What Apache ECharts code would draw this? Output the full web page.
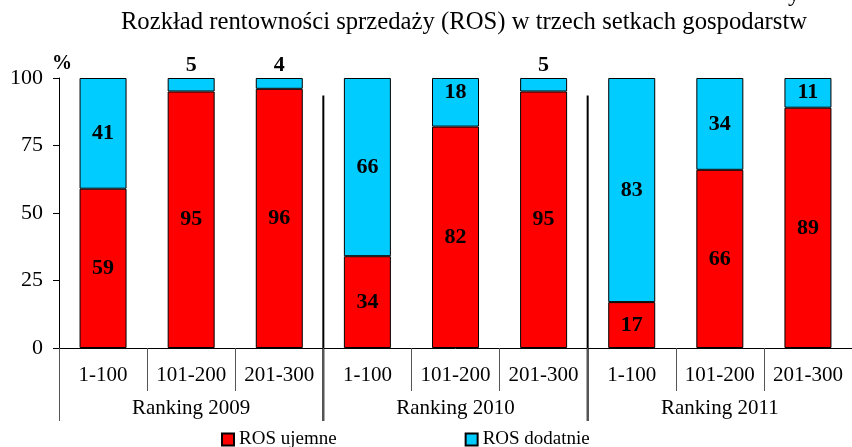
<!DOCTYPE html>
<html><head><meta charset="utf-8">
<script src="https://cdn.jsdelivr.net/npm/echarts@6/dist/echarts.min.js"></script>
<style>html,body{margin:0;padding:0;background:#fff}#c{width:852px;height:447px}</style>
</head><body><div id="c"></div>
<script>
var titleText = 'Rozkład rentowności sprzedaży (ROS) w trzech setkach gospodarstw';
var categories = ['1-100','101-200','201-300','1-100','101-200','201-300','1-100','101-200','201-300'];
var groups = ['Ranking 2009','Ranking 2010','Ranking 2011'];
var seriesNames = ['ROS ujemne','ROS dodatnie'];
var rosUjemne = [59, 95, 96, 34, 82, 95, 17, 66, 89];
var rosDodatnie = [41, 5, 4, 66, 18, 5, 83, 34, 11];
var yTicks = [0, 25, 50, 75, 100];

var F = '"Liberation Serif","Times New Roman",serif';
var chart = echarts.init(document.getElementById('c'));

function blueData(arr){
  return arr.map(function(v){
    var pos = v < 8 ? 'top' : (v < 20 ? 'insideTop' : 'inside');
    return {value: v, label: {position: pos, distance: v < 8 ? 2 : 3}};
  });
}
var lbl = {show: true, color: '#000', fontFamily: F, fontWeight: 'bold', fontSize: 22};

chart.setOption({
  animation: false,
  title: {text: titleText, left: 459, textAlign: 'center', top: 5,
    textStyle: {fontFamily: F, fontWeight: 'normal', fontSize: 24.7, color: '#000'}},
  legend: {left: 216, top: 425, itemWidth: 12, itemHeight: 12, itemGap: 128,
    icon: 'rect', textStyle: {fontFamily: F, fontSize: 19, color: '#000'}, data: seriesNames},
  grid: {left: 59, top: 78, width: 796, height: 270},
  xAxis: [{
    type: 'category', data: categories, position: 'bottom',
    axisLine: {lineStyle: {color: '#000', width: 1}},
    axisTick: {show: true, interval: 0, alignWithLabel: false, length: 43, lineStyle: {color: '#555', width: 1}},
    axisLabel: {interval: 0, fontFamily: F, fontSize: 21, color: '#000', margin: 17}
  }, {
    type: 'category', data: groups, position: 'bottom',
    axisLine: {show: false},
    axisTick: {show: true, interval: 0, alignWithLabel: false, length: 73, lineStyle: {color: '#555', width: 1}},
    axisLabel: {interval: 0, fontFamily: F, fontSize: 21, color: '#000', margin: 50}
  }],
  yAxis: {
    type: 'value', min: 0, max: 100, interval: 25,
    name: '%', nameLocation: 'end', nameGap: 4,
    nameTextStyle: {fontFamily: F, fontWeight: 'bold', fontSize: 20, color: '#000', align: 'center', padding: [0, 0, 0, 6]},
    axisLine: {show: true, lineStyle: {color: '#000'}},
    axisTick: {show: true, length: 6, lineStyle: {color: '#000'}},
    splitLine: {show: false},
    axisLabel: {fontFamily: F, fontSize: 22, color: '#000', margin: 16}
  },
  series: [{
    name: seriesNames[0], type: 'bar', stack: 'a', barWidth: 47, data: rosUjemne,
    itemStyle: {color: '#FF0000', borderColor: '#000', borderWidth: 1},
    label: Object.assign({position: 'inside'}, lbl)
  }, {
    name: seriesNames[1], type: 'bar', stack: 'a', barWidth: 47, data: blueData(rosDodatnie),
    itemStyle: {color: '#00CCFF', borderColor: '#000', borderWidth: 1},
    label: lbl
  }]
});

// group separators (thick lines) computed from the axes
var c0 = chart.convertToPixel({xAxisIndex: 0}, 0);
var c1 = chart.convertToPixel({xAxisIndex: 0}, 1);
var step = c1 - c0;
var yTop = chart.convertToPixel({yAxisIndex: 0}, 93.5);
var y0 = chart.convertToPixel({yAxisIndex: 0}, 0);
var g = [];
[3, 6].forEach(function(i){
  var x = chart.convertToPixel({xAxisIndex: 0}, i) - step / 2;
  g.push({type: 'line', shape: {x1: x, y1: yTop, x2: x, y2: y0 + 73}, style: {stroke: '#000', lineWidth: 2}});
});
g.push({type: 'text', left: 788, top: -17, style: {text: 'y', font: '24px ' + F, fill: '#000'}});
chart.setOption({graphic: g});
</script></body></html>
